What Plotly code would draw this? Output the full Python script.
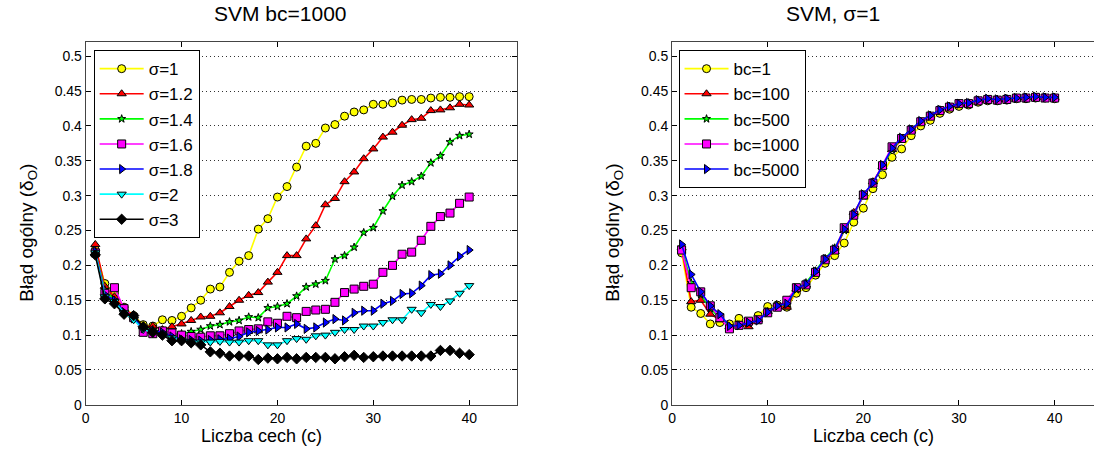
import plotly.graph_objects as go

# Liczba cech (number of features)
c = list(range(1, 41))

# --- Left panel: SVM bc=1000, varying sigma ---
sigma_labels = ["σ=1", "σ=1.2", "σ=1.4", "σ=1.6", "σ=1.8", "σ=2", "σ=3"]

err_s1 = [0.222, 0.174, 0.160, 0.140, 0.128, 0.115, 0.113, 0.122, 0.121, 0.127,
          0.139, 0.150, 0.166, 0.169, 0.190, 0.206, 0.214, 0.252, 0.267, 0.298,
          0.313, 0.341, 0.371, 0.375, 0.397, 0.402, 0.414, 0.420, 0.423, 0.431,
          0.431, 0.433, 0.437, 0.438, 0.438, 0.440, 0.441, 0.441, 0.442, 0.442]
err_s12 = [0.230, 0.170, 0.155, 0.138, 0.128, 0.112, 0.113, 0.108, 0.112, 0.116,
           0.121, 0.126, 0.127, 0.132, 0.141, 0.150, 0.157, 0.161, 0.176, 0.190,
           0.214, 0.214, 0.238, 0.257, 0.287, 0.296, 0.320, 0.334, 0.353, 0.367,
           0.384, 0.391, 0.401, 0.409, 0.411, 0.422, 0.423, 0.426, 0.431, 0.430]
err_s14 = [0.220, 0.165, 0.150, 0.135, 0.127, 0.110, 0.108, 0.104, 0.100, 0.102,
           0.105, 0.108, 0.113, 0.115, 0.119, 0.121, 0.126, 0.125, 0.139, 0.141,
           0.145, 0.156, 0.169, 0.173, 0.178, 0.209, 0.214, 0.226, 0.247, 0.254,
           0.278, 0.299, 0.315, 0.320, 0.328, 0.347, 0.357, 0.377, 0.386, 0.388]
err_s16 = [0.218, 0.160, 0.168, 0.138, 0.125, 0.104, 0.102, 0.106, 0.103, 0.100,
           0.098, 0.097, 0.099, 0.099, 0.102, 0.106, 0.108, 0.109, 0.119, 0.117,
           0.127, 0.125, 0.134, 0.136, 0.137, 0.147, 0.161, 0.166, 0.170, 0.173,
           0.190, 0.200, 0.216, 0.219, 0.236, 0.256, 0.270, 0.275, 0.289, 0.298]
err_s18 = [0.220, 0.158, 0.150, 0.133, 0.124, 0.110, 0.106, 0.104, 0.098, 0.094,
           0.093, 0.092, 0.093, 0.094, 0.095, 0.098, 0.104, 0.106, 0.108, 0.111,
           0.111, 0.116, 0.109, 0.111, 0.118, 0.123, 0.121, 0.132, 0.135, 0.135,
           0.145, 0.149, 0.159, 0.160, 0.171, 0.186, 0.188, 0.200, 0.213, 0.222]
err_s2 = [0.218, 0.155, 0.148, 0.132, 0.122, 0.108, 0.104, 0.100, 0.096, 0.093,
          0.091, 0.090, 0.090, 0.091, 0.090, 0.090, 0.092, 0.092, 0.086, 0.086,
          0.092, 0.095, 0.094, 0.099, 0.100, 0.104, 0.108, 0.108, 0.113, 0.113,
          0.118, 0.122, 0.122, 0.137, 0.132, 0.144, 0.141, 0.149, 0.160, 0.171]
err_s3 = [0.215, 0.152, 0.145, 0.130, 0.128, 0.112, 0.104, 0.100, 0.092, 0.092,
          0.089, 0.086, 0.076, 0.074, 0.070, 0.070, 0.070, 0.065, 0.067, 0.066,
          0.068, 0.066, 0.068, 0.068, 0.068, 0.066, 0.069, 0.071, 0.068, 0.069,
          0.070, 0.070, 0.070, 0.070, 0.070, 0.070, 0.078, 0.078, 0.074, 0.072]

# --- Right panel: SVM sigma=1, varying bc ---
bc_labels = ["bc=1", "bc=100", "bc=500", "bc=1000", "bc=5000"]

err_bc1 = [0.218, 0.140, 0.131, 0.116, 0.118, 0.116, 0.124, 0.118, 0.128, 0.141,
           0.143, 0.140, 0.160, 0.168, 0.186, 0.203, 0.214, 0.232, 0.262, 0.282,
           0.310, 0.330, 0.355, 0.367, 0.386, 0.400, 0.408, 0.418, 0.424, 0.428,
           0.430, 0.434, 0.436, 0.436, 0.437, 0.439, 0.439, 0.440, 0.440, 0.439]
err_bc100 = [0.225, 0.148, 0.150, 0.130, 0.122, 0.112, 0.115, 0.112, 0.122, 0.134,
             0.141, 0.140, 0.166, 0.172, 0.190, 0.208, 0.220, 0.250, 0.276, 0.298,
             0.320, 0.342, 0.366, 0.380, 0.393, 0.405, 0.414, 0.422, 0.427, 0.431,
             0.433, 0.436, 0.438, 0.438, 0.438, 0.440, 0.441, 0.441, 0.441, 0.440]
err_bc500 = [0.226, 0.175, 0.158, 0.138, 0.124, 0.112, 0.114, 0.117, 0.121, 0.133,
             0.142, 0.145, 0.165, 0.175, 0.192, 0.210, 0.225, 0.250, 0.272, 0.300,
             0.318, 0.342, 0.366, 0.382, 0.395, 0.406, 0.415, 0.423, 0.428, 0.432,
             0.433, 0.437, 0.438, 0.438, 0.439, 0.440, 0.441, 0.441, 0.441, 0.441]
err_bc1000 = [0.222, 0.168, 0.162, 0.142, 0.125, 0.109, 0.114, 0.120, 0.122, 0.132,
              0.140, 0.150, 0.168, 0.172, 0.190, 0.208, 0.222, 0.254, 0.272, 0.301,
              0.318, 0.343, 0.370, 0.382, 0.394, 0.406, 0.414, 0.422, 0.427, 0.432,
              0.432, 0.436, 0.438, 0.437, 0.438, 0.440, 0.440, 0.441, 0.440, 0.440]
err_bc5000 = [0.230, 0.187, 0.162, 0.142, 0.130, 0.113, 0.114, 0.118, 0.121, 0.133,
              0.142, 0.145, 0.167, 0.173, 0.191, 0.209, 0.223, 0.252, 0.273, 0.302,
              0.318, 0.344, 0.368, 0.383, 0.395, 0.407, 0.415, 0.423, 0.428, 0.432,
              0.433, 0.437, 0.439, 0.438, 0.439, 0.440, 0.441, 0.442, 0.441, 0.441]

y_ticks = [0, 0.05, 0.1, 0.15, 0.2, 0.25, 0.3, 0.35, 0.4, 0.45, 0.5]
x_ticks = [0, 10, 20, 30, 40]

FONT = "Arial, Liberation Sans, sans-serif"

# MATLAB-like line/marker styles
left_styles = [
    ("#ffff00", "circle", 8),
    ("#ff0000", "triangle-up", 8),
    ("#00ff00", "star", 6),
    ("#ff00ff", "square", 8),
    ("#0000ff", "triangle-right", 8),
    ("#00ffff", "triangle-down", 8),
    ("#000000", "diamond", 8),
]
right_styles = left_styles[:5]

fig = go.Figure()

left_series = [err_s1, err_s12, err_s14, err_s16, err_s18, err_s2, err_s3]
for name, ys, (col, sym, sz) in zip(sigma_labels, left_series, left_styles):
    fig.add_trace(go.Scatter(
        x=c, y=ys, name=name, mode="lines+markers",
        line=dict(color=col, width=1.6),
        marker=dict(symbol=sym, size=sz, color=col,
                    line=dict(color="black", width=1)),
        xaxis="x", yaxis="y", legend="legend",
    ))

right_series = [err_bc1, err_bc100, err_bc500, err_bc1000, err_bc5000]
for name, ys, (col, sym, sz) in zip(bc_labels, right_series, right_styles):
    fig.add_trace(go.Scatter(
        x=c, y=ys, name=name, mode="lines+markers",
        line=dict(color=col, width=1.6),
        marker=dict(symbol=sym, size=sz, color=col,
                    line=dict(color="black", width=1)),
        xaxis="x2", yaxis="y2", legend="legend2",
    ))

W, H = 1094, 460
ax_top, ax_bot = 43, 412
ydom = [(H - ax_bot) / H, (H - ax_top) / H]

common_x = dict(
    tickvals=x_ticks, ticks="inside", ticklen=5, tickcolor="black",
    showline=True, linecolor="#444444", linewidth=1,
    showgrid=False, zeroline=False,
    tickfont=dict(family=FONT, size=14, color="black"),
)
common_y = dict(
    range=[0, 0.52], tickvals=y_ticks, ticks="inside", ticklen=5,
    tickcolor="black", showline=True, linecolor="#444444", linewidth=1,
    showgrid=True, gridcolor="#333333", gridwidth=1, griddash="1px,3px",
    zeroline=False,
    tickfont=dict(family=FONT, size=14, color="black"),
)

legend_common = dict(
    bgcolor="white", bordercolor="black", borderwidth=1,
    font=dict(family=FONT, size=17, color="black"),
    xanchor="left", yanchor="top", itemwidth=44,
)

fig.update_layout(
    width=W, height=H, autosize=False,
    margin=dict(l=0, r=0, t=0, b=0),
    paper_bgcolor="white", plot_bgcolor="white",
    showlegend=True,
    xaxis=dict(domain=[82 / W, 515 / W], range=[0, 45], mirror="ticks",
               anchor="y", **common_x),
    yaxis=dict(domain=ydom, mirror="ticks", anchor="x", **common_y),
    xaxis2=dict(domain=[670.5 / W, 1.0], range=[0, (W - 670.5) / 9.6],
                mirror="ticks", anchor="y2", **common_x),
    yaxis2=dict(domain=ydom, mirror=False, anchor="x2", **common_y),
    legend=dict(x=90 / W, y=1 - 51 / H, entrywidth=58, **legend_common),
    legend2=dict(x=677 / W, y=1 - 51 / H, entrywidth=74, **legend_common),
    annotations=[
        dict(text="SVM bc=1000", x=278 / W, y=1 - 14 / H, xref="paper",
             yref="paper", showarrow=False, xanchor="center", yanchor="middle",
             font=dict(family=FONT, size=21, color="black")),
        dict(text="SVM, σ=1", x=832 / W, y=1 - 14 / H, xref="paper",
             yref="paper", showarrow=False, xanchor="center", yanchor="middle",
             font=dict(family=FONT, size=21, color="black")),
        dict(text="Liczba cech (c)", x=258 / W, y=1 - 444 / H, xref="paper",
             yref="paper", showarrow=False, xanchor="center", yanchor="middle",
             font=dict(family=FONT, size=18, color="black")),
        dict(text="Liczba cech (c)", x=873 / W, y=1 - 444 / H, xref="paper",
             yref="paper", showarrow=False, xanchor="center", yanchor="middle",
             font=dict(family=FONT, size=18, color="black")),
        dict(text="Błąd ogólny (δ<sub>O</sub>)", x=24 / W, y=1 - 237 / H,
             xref="paper", yref="paper", showarrow=False, textangle=-90,
             xanchor="center", yanchor="middle",
             font=dict(family=FONT, size=19, color="black")),
        dict(text="Błąd ogólny (δ<sub>O</sub>)", x=612 / W, y=1 - 237 / H,
             xref="paper", yref="paper", showarrow=False, textangle=-90,
             xanchor="center", yanchor="middle",
             font=dict(family=FONT, size=19, color="black")),
    ],
)

fig.write_html("out.html")
